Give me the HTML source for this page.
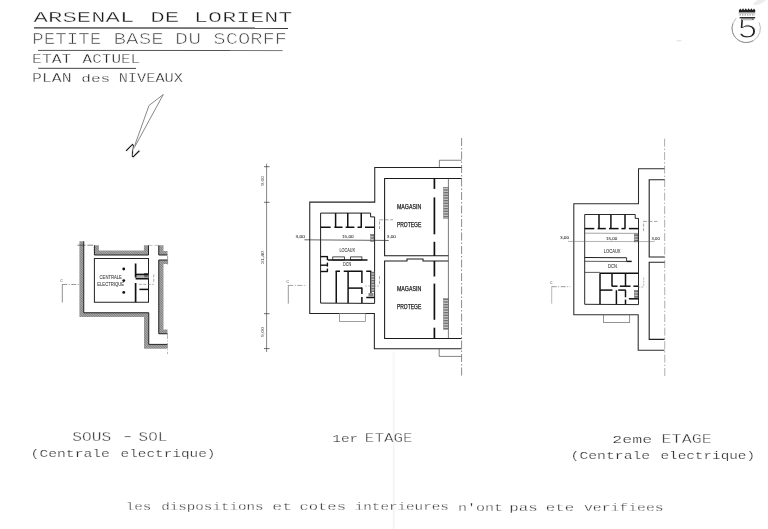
<!DOCTYPE html>
<html lang="fr">
<head>
<meta charset="utf-8">
<title>Arsenal de Lorient - Petite base du Scorff - Plan des niveaux</title>
<style>
html,body{margin:0;padding:0;background:#fff;}
body{width:768px;height:529px;overflow:hidden;}
svg{display:block;will-change:transform;filter:grayscale(1);}
text{white-space:pre;}
</style>
</head>
<body>
<svg width="768" height="529" viewBox="0 0 768 529" font-family="'Liberation Sans','DejaVu Sans',sans-serif">
<defs><pattern id="h" width="1.7" height="1.7" patternUnits="userSpaceOnUse" patternTransform="rotate(45)"><rect width="1.7" height="1.7" fill="#aeaeae"/><rect width="1.7" height="0.8" fill="#7c7c7c"/></pattern><pattern id="st" width="4" height="1.6" patternUnits="userSpaceOnUse"><rect width="4" height="1.6" fill="#d0d0d0"/><rect width="4" height="0.7" fill="#555"/></pattern></defs>
<rect width="768" height="529" fill="#fff"/>
<rect x="392.6" y="352" width="2.4" height="177" fill="#f8f8f8"/>
<rect x="393.4" y="400" width="0.8" height="129" fill="#f3f3f3"/>
<ellipse cx="760" cy="1.5" rx="7" ry="2.2" fill="#ececec" transform="rotate(-25 760 1.5)"/>
<ellipse cx="679" cy="40.8" rx="3" ry="0.8" fill="#e6e6e6"/>
<text transform="translate(33.61,22.1) scale(1.5834,1)" font-family="'Liberation Mono','DejaVu Sans Mono',monospace" font-size="15.15" fill="#1c1c1c" stroke="#fff" stroke-width="0.35">ARSENAL</text>
<text transform="translate(150.15,22.2) scale(1.6029,1)" font-family="'Liberation Mono','DejaVu Sans Mono',monospace" font-size="15.15" fill="#1c1c1c" stroke="#fff" stroke-width="0.35">DE</text>
<text transform="translate(194.05,22.4) scale(1.5466,1)" font-family="'Liberation Mono','DejaVu Sans Mono',monospace" font-size="15.15" fill="#1c1c1c" stroke="#fff" stroke-width="0.35">LORIENT</text>
<text transform="translate(32.32,43.8) scale(1.2151,1)" font-family="'Liberation Mono','DejaVu Sans Mono',monospace" font-size="15.76" fill="#3c3c3c" stroke="#fff" stroke-width="0.6">PETITE</text>
<text transform="translate(113.59,44) scale(1.3244,1)" font-family="'Liberation Mono','DejaVu Sans Mono',monospace" font-size="15.76" fill="#3c3c3c" stroke="#fff" stroke-width="0.6">BASE</text>
<text transform="translate(175.12,44.1) scale(1.3771,1)" font-family="'Liberation Mono','DejaVu Sans Mono',monospace" font-size="15.76" fill="#3c3c3c" stroke="#fff" stroke-width="0.6">DU</text>
<text transform="translate(213.37,44.2) scale(1.3006,1)" font-family="'Liberation Mono','DejaVu Sans Mono',monospace" font-size="15.76" fill="#3c3c3c" stroke="#fff" stroke-width="0.6">SCORFF</text>
<text transform="translate(32.07,62.9) scale(1.2887,1)" font-family="'Liberation Mono','DejaVu Sans Mono',monospace" font-size="12.73" fill="#222" stroke="#fff" stroke-width="0.35">ETAT</text>
<text transform="translate(82.59,62.9) scale(1.2585,1)" font-family="'Liberation Mono','DejaVu Sans Mono',monospace" font-size="12.73" fill="#222" stroke="#fff" stroke-width="0.35">ACTUEL</text>
<text transform="translate(32.06,82) scale(1.3079,1)" font-family="'Liberation Mono','DejaVu Sans Mono',monospace" font-size="12.58" fill="#222" stroke="#fff" stroke-width="0.35">PLAN</text>
<text transform="translate(81.34,82) scale(1.5365,1)" font-family="'Liberation Mono','DejaVu Sans Mono',monospace" font-size="10.45" fill="#222" stroke="#fff" stroke-width="0.25">des</text>
<text transform="translate(118.65,82.1) scale(1.2175,1)" font-family="'Liberation Mono','DejaVu Sans Mono',monospace" font-size="12.58" fill="#222" stroke="#fff" stroke-width="0.35">NIVEAUX</text>
<line x1="34" y1="27.9" x2="288" y2="28.2" stroke="#333" stroke-width="1.4"/>
<line x1="38" y1="50.4" x2="230" y2="50.5" stroke="#555" stroke-width="1"/>
<line x1="230" y1="50.5" x2="282.6" y2="50.6" stroke="#777" stroke-width="1"/>
<line x1="38.2" y1="68.3" x2="136" y2="68.4" stroke="#444" stroke-width="1"/>
<path d="M163.3 94.5 L149 105.5 L133.2 149.7 Z" fill="none" stroke="#606060" stroke-width="0.75" stroke-linejoin="miter"/>
<text x="0" y="0" font-family="'Liberation Mono','DejaVu Sans Mono',monospace" font-size="15.2" text-anchor="middle" fill="#111" stroke="#fff" stroke-width="0.5" transform="translate(132.7,150.6) rotate(45) scale(1.7,1) translate(0,5)">N</text>
<path d="M759.07 22.4 A14.2 14.2 0 1 1 736.16 18.36" fill="none" stroke="#aaa" stroke-width="0.8"/>
<path d="M753.3 40.7 A14.2 14.2 0 0 1 732.86 23.54" fill="none" stroke="#888" stroke-width="0.8"/>
<text x="0" y="0" font-size="28.6" text-anchor="middle" fill="#222" stroke="#fff" stroke-width="1.0" transform="translate(747.5,37.7) scale(1.2,1)">5</text>
<rect x="738.9" y="10" width="16.3" height="2.4" fill="#222" stroke="none" stroke-width="0"/>
<path d="M739 10.2 L740.3 8.4 L741.7 10.2 L743 8.2 L744.4 10.2 L745.8 8.2 L747.2 10.2 L748.6 8.2 L750 10.2 L751.4 8.2 L752.8 10.2 L754 8.4 L755.2 10.2 Z" fill="#222" stroke="none" stroke-linejoin="miter"/>
<line x1="738.7" y1="13.1" x2="755.2" y2="13.1" stroke="#555" stroke-width="0.5"/>
<line x1="739.5" y1="14.9" x2="755" y2="14.9" stroke="#777" stroke-width="0.9" stroke-dasharray="1.5 1"/>
<line x1="739.6" y1="17.7" x2="755.2" y2="17.7" stroke="#222" stroke-width="1.3"/>
<rect x="742" y="18.8" width="10" height="1.4" fill="#bbb" stroke="none" stroke-width="0"/>
<path d="M79.4 241.25 L83.75 241.25 L83.75 312.75 L148.75 312.75 L148.75 344.4 L167.5 344.4 L167.5 348.75 L144 348.75 L144 316.9 L79.4 316.9 Z" fill="url(#h)" stroke="none" stroke-linejoin="miter"/>
<path d="M83.75 241.25 L83.75 312.75 L148.75 312.75 L148.75 344.4 L167.5 344.4" fill="none" stroke="#222" stroke-width="1" stroke-linejoin="miter"/>
<path d="M94.4 245.25 L98.9 245.25 L98.9 250.6 L143.9 250.6 L143.9 245.25 L148.5 245.25 L148.5 255 L94.4 255 Z" fill="url(#h)" stroke="none" stroke-linejoin="miter"/>
<path d="M94.4 245.25 L94.4 255 L148.5 255 L148.5 245.25" fill="none" stroke="#222" stroke-width="1" stroke-linejoin="miter"/>
<path d="M158.75 245.25 L163.5 245.25 L163.5 251 L167.5 251 L167.5 255 L158.75 255 Z" fill="url(#h)" stroke="none" stroke-linejoin="miter"/>
<path d="M158.75 245.25 L158.75 255 L167.5 255" fill="none" stroke="#222" stroke-width="1" stroke-linejoin="miter"/>
<path d="M158.75 260 L167.5 260 L167.5 264 L163.5 264 L163.5 329.4 L167.5 329.4 L167.5 333.75 L158.75 333.75 Z" fill="url(#h)" stroke="none" stroke-linejoin="miter"/>
<path d="M167.5 260 L158.75 260 L158.75 333.75 L167.5 333.75" fill="none" stroke="#222" stroke-width="1" stroke-linejoin="miter"/>
<line x1="77.4" y1="245.2" x2="85.6" y2="245.2" stroke="#333" stroke-width="0.6"/>
<line x1="87.3" y1="245.2" x2="93" y2="245.2" stroke="#333" stroke-width="0.6"/>
<line x1="148.5" y1="245.4" x2="158.75" y2="245.4" stroke="#999" stroke-width="0.6" stroke-dasharray="4 2"/>
<line x1="167.6" y1="256" x2="167.6" y2="264.5" stroke="#666" stroke-width="0.6"/>
<line x1="167.5" y1="334" x2="167.5" y2="354" stroke="#888" stroke-width="0.6" stroke-dasharray="5 1.5 1 1.5"/>
<rect x="94.4" y="258.5" width="54.1" height="43.75" fill="none" stroke="#222" stroke-width="1"/>
<circle cx="123.75" cy="269.0" r="1.45" fill="#151515"/>
<circle cx="123.75" cy="280.6" r="1.45" fill="#151515"/>
<circle cx="123.75" cy="292.4" r="1.45" fill="#151515"/>
<rect x="135.6" y="274.4" width="12.9" height="4.35" fill="#b0b0b0" stroke="none" stroke-width="0"/>
<rect x="144.2" y="273" width="3.6" height="4.2" fill="#666" stroke="none" stroke-width="0"/>
<line x1="135.6" y1="263.5" x2="135.6" y2="277.5" stroke="#111" stroke-width="1.7"/>
<line x1="135.6" y1="283" x2="135.6" y2="302.25" stroke="#111" stroke-width="1.7"/>
<line x1="135.6" y1="274.4" x2="148.5" y2="274.4" stroke="#111" stroke-width="1.5"/>
<line x1="135.6" y1="278.75" x2="148.5" y2="278.75" stroke="#111" stroke-width="1.5"/>
<line x1="139.4" y1="289.4" x2="148.5" y2="289.4" stroke="#111" stroke-width="1.5"/>
<line x1="153.7" y1="274.4" x2="153.7" y2="283" stroke="#777" stroke-width="0.6" stroke-dasharray="3 1.5"/>
<line x1="138.75" y1="284.4" x2="153.75" y2="284.4" stroke="#777" stroke-width="0.6" stroke-dasharray="3 1.5"/>
<text x="99.6" y="278.75" font-size="4.89" font-weight="400" textLength="22.3" lengthAdjust="spacingAndGlyphs" fill="#333" stroke="#333" stroke-width="0.06">CENTRALE</text>
<text x="97.25" y="285.6" font-size="4.75" font-weight="400" textLength="26.75" lengthAdjust="spacingAndGlyphs" fill="#333" stroke="#333" stroke-width="0.06">ELECTRIQUE</text>
<text x="60.2" y="282" font-size="4.19" font-weight="400" textLength="2.6" lengthAdjust="spacingAndGlyphs" fill="#333">C</text>
<line x1="62.25" y1="284.5" x2="79" y2="284.5" stroke="#555" stroke-width="0.6" stroke-dasharray="5 1.5 1 1.5"/>
<line x1="62.3" y1="284.3" x2="62.3" y2="302.5" stroke="#444" stroke-width="0.6"/>
<line x1="266.6" y1="163.75" x2="266.6" y2="352" stroke="#333" stroke-width="0.6"/>
<line x1="264" y1="166.7" x2="269.6" y2="166.7" stroke="#333" stroke-width="0.7"/>
<line x1="264" y1="202.3" x2="269.6" y2="202.3" stroke="#333" stroke-width="0.7"/>
<line x1="264" y1="313.7" x2="269.6" y2="313.7" stroke="#333" stroke-width="0.7"/>
<line x1="264" y1="348.6" x2="269.6" y2="348.6" stroke="#333" stroke-width="0.7"/>
<text x="-185.7" y="263.8" font-size="4.19" font-weight="400" textLength="9.7" lengthAdjust="spacingAndGlyphs" fill="#333" transform="rotate(-90)">9,00</text>
<text x="-264" y="263.8" font-size="4.19" font-weight="400" textLength="13" lengthAdjust="spacingAndGlyphs" fill="#333" transform="rotate(-90)">31,40</text>
<text x="-337" y="263.8" font-size="4.19" font-weight="400" textLength="10" lengthAdjust="spacingAndGlyphs" fill="#333" transform="rotate(-90)">9,00</text>
<path d="M461.6 167.5 L374.75 167.5 L374.75 202.1 L309.75 202.1 L309.75 313.4 L374.35 313.4 L374.35 348.8 L461.5 348.8" fill="none" stroke="#222" stroke-width="1.05" stroke-linejoin="miter"/>
<path d="M439.4 167.5 L439.4 160.25 L461.6 160.25" fill="none" stroke="#333" stroke-width="0.6" stroke-linejoin="miter"/>
<path d="M439.2 348.9 L439.2 356.4 L461.4 356.4" fill="none" stroke="#333" stroke-width="0.6" stroke-linejoin="miter"/>
<rect x="339.6" y="313.4" width="25.7" height="8" fill="none" stroke="#777" stroke-width="0.7"/>
<line x1="461.6" y1="138" x2="461.6" y2="375.5" stroke="#5a5a5a" stroke-width="0.7" stroke-dasharray="8 2 1.5 2"/>
<path d="M461.6 178.5 L384.6 178.5 L384.6 255.8 L448.4 255.8" fill="none" stroke="#1a1a1a" stroke-width="1.05" stroke-linejoin="miter"/>
<path d="M448.4 261 L423 261 L423 258.9 L407 258.9 L407 261 L384.6 261 L384.6 338.4 L461.5 338.4" fill="none" stroke="#1a1a1a" stroke-width="1.05" stroke-linejoin="miter"/>
<line x1="448.4" y1="178.5" x2="448.4" y2="338.4" stroke="#444" stroke-width="0.7"/>
<line x1="434.4" y1="178.5" x2="434.4" y2="188.9" stroke="#111" stroke-width="1.7"/>
<line x1="434.4" y1="197.4" x2="434.4" y2="234.3" stroke="#111" stroke-width="1.7"/>
<line x1="434.4" y1="241.8" x2="434.4" y2="256" stroke="#111" stroke-width="1.7"/>
<line x1="434.4" y1="261" x2="434.4" y2="276.5" stroke="#111" stroke-width="1.7"/>
<line x1="434.4" y1="283.6" x2="434.4" y2="319.8" stroke="#111" stroke-width="1.7"/>
<line x1="434.4" y1="327.7" x2="434.4" y2="338.3" stroke="#111" stroke-width="1.7"/>
<rect x="443.6" y="187.4" width="4.6" height="30.8" fill="url(#st)" stroke="#555" stroke-width="0.4"/>
<rect x="443.6" y="298.6" width="4.6" height="30.8" fill="url(#st)" stroke="#555" stroke-width="0.4"/>
<text x="396.9" y="209.3" font-size="6.42" font-weight="400" textLength="24.3" lengthAdjust="spacingAndGlyphs" fill="#222" stroke="#222" stroke-width="0.25">MAGASIN</text>
<text x="396.9" y="227.1" font-size="6.42" font-weight="400" textLength="24.3" lengthAdjust="spacingAndGlyphs" fill="#222" stroke="#222" stroke-width="0.25">PROTEGE</text>
<text x="396.9" y="291.2" font-size="6.42" font-weight="400" textLength="24.3" lengthAdjust="spacingAndGlyphs" fill="#222" stroke="#222" stroke-width="0.25">MAGASIN</text>
<text x="396.9" y="308.8" font-size="6.42" font-weight="400" textLength="24.3" lengthAdjust="spacingAndGlyphs" fill="#222" stroke="#222" stroke-width="0.25">PROTEGE</text>
<path d="M374.6 216.9 L370.6 216.9 L370.6 213.1 L320.6 213.1 L320.6 303.1 L374.6 303.4 Z" fill="none" stroke="#111" stroke-width="0.95" stroke-linejoin="miter"/>
<line x1="335.6" y1="213.1" x2="335.6" y2="227.25" stroke="#111" stroke-width="1.5"/>
<line x1="347.75" y1="213.1" x2="347.75" y2="227.25" stroke="#111" stroke-width="1.5"/>
<line x1="361.25" y1="213.1" x2="361.25" y2="227.25" stroke="#111" stroke-width="1.5"/>
<line x1="320.6" y1="227.25" x2="330.6" y2="227.25" stroke="#111" stroke-width="1.5"/>
<line x1="334.4" y1="227.25" x2="342.5" y2="227.25" stroke="#111" stroke-width="1.5"/>
<line x1="345.6" y1="227.25" x2="354.4" y2="227.25" stroke="#111" stroke-width="1.5"/>
<line x1="357.5" y1="227.25" x2="361.9" y2="227.25" stroke="#111" stroke-width="1.5"/>
<line x1="365" y1="227.25" x2="374.4" y2="227.25" stroke="#111" stroke-width="1.5"/>
<line x1="304.4" y1="239.8" x2="388.75" y2="240.45" stroke="#222" stroke-width="0.7"/>
<text x="295.6" y="237.8" font-size="4.19" font-weight="400" textLength="9.4" lengthAdjust="spacingAndGlyphs" fill="#333" stroke="#333" stroke-width="0.06">3,00</text>
<text x="341.9" y="238.2" font-size="4.33" font-weight="400" textLength="11.85" lengthAdjust="spacingAndGlyphs" fill="#333" stroke="#333" stroke-width="0.06">15,00</text>
<text x="386.8" y="238.4" font-size="4.05" font-weight="400" textLength="9.2" lengthAdjust="spacingAndGlyphs" fill="#333" stroke="#333" stroke-width="0.06">3,00</text>
<text x="339.4" y="251.9" font-size="4.75" font-weight="400" textLength="15.6" lengthAdjust="spacingAndGlyphs" fill="#333" stroke="#333" stroke-width="0.06">LOCAUX</text>
<text x="343.1" y="266.1" font-size="4.75" font-weight="400" textLength="8.15" lengthAdjust="spacingAndGlyphs" fill="#333" stroke="#333" stroke-width="0.06">DCN</text>
<rect x="370.8" y="234.4" width="3.2" height="7.1" fill="url(#st)" stroke="#444" stroke-width="0.4"/>
<line x1="379.5" y1="221.5" x2="379.5" y2="230.5" stroke="#666" stroke-width="0.6" stroke-dasharray="3 1.5"/>
<line x1="379.2" y1="219.8" x2="393" y2="219.8" stroke="#666" stroke-width="0.6" stroke-dasharray="4 1.5"/>
<line x1="320.6" y1="256.6" x2="327.9" y2="256.6" stroke="#111" stroke-width="1.4"/>
<line x1="320.6" y1="265.2" x2="327.9" y2="265.2" stroke="#111" stroke-width="1.4"/>
<line x1="320.6" y1="271.5" x2="327.9" y2="271.5" stroke="#111" stroke-width="1.4"/>
<line x1="327.4" y1="256.6" x2="327.4" y2="260.2" stroke="#111" stroke-width="1.4"/>
<line x1="327.4" y1="262.6" x2="327.4" y2="266.6" stroke="#111" stroke-width="1.4"/>
<line x1="327.4" y1="268.6" x2="327.4" y2="271.5" stroke="#111" stroke-width="1.4"/>
<rect x="332.75" y="256.9" width="11.65" height="3.1" fill="none" stroke="#222" stroke-width="0.8"/>
<rect x="350.6" y="256.9" width="11.3" height="3.1" fill="none" stroke="#222" stroke-width="0.8"/>
<line x1="328" y1="260" x2="367.5" y2="260" stroke="#111" stroke-width="1.3"/>
<line x1="335.6" y1="271.25" x2="340" y2="271.25" stroke="#111" stroke-width="1.5"/>
<line x1="343.75" y1="271.25" x2="362.5" y2="271.25" stroke="#111" stroke-width="1.5"/>
<line x1="366.25" y1="271.25" x2="371.25" y2="271.25" stroke="#111" stroke-width="1.5"/>
<line x1="336.25" y1="271.25" x2="336.25" y2="302.9" stroke="#111" stroke-width="1.5"/>
<line x1="348.1" y1="271.25" x2="348.1" y2="302.9" stroke="#111" stroke-width="1.5"/>
<line x1="361.9" y1="271.25" x2="361.9" y2="283" stroke="#111" stroke-width="1.5"/>
<line x1="361.9" y1="287.5" x2="361.9" y2="294" stroke="#111" stroke-width="1.5"/>
<line x1="361.9" y1="297" x2="361.9" y2="302.9" stroke="#111" stroke-width="1.5"/>
<line x1="370.9" y1="271.25" x2="370.9" y2="293" stroke="#111" stroke-width="1.4"/>
<line x1="348.1" y1="288.1" x2="361.9" y2="288.1" stroke="#111" stroke-width="1.5"/>
<line x1="366.25" y1="297.5" x2="374.6" y2="297.5" stroke="#111" stroke-width="1.5"/>
<rect x="371.5" y="271.5" width="2.8" height="20.5" fill="url(#st)" stroke="none" stroke-width="0"/>
<rect x="368.5" y="293" width="5" height="3.5" fill="#888" stroke="none" stroke-width="0"/>
<line x1="379.5" y1="276.25" x2="379.5" y2="283.75" stroke="#666" stroke-width="0.6" stroke-dasharray="3 1.5"/>
<line x1="365" y1="286" x2="380" y2="286" stroke="#999" stroke-width="0.6" stroke-dasharray="2 1"/>
<text x="286.4" y="283.2" font-size="4.19" font-weight="400" textLength="2.5" lengthAdjust="spacingAndGlyphs" fill="#333">C</text>
<line x1="288.3" y1="285.4" x2="306.6" y2="285.4" stroke="#666" stroke-width="0.6" stroke-dasharray="5 1.5 1 1.5"/>
<line x1="288.3" y1="285.2" x2="288.3" y2="303.7" stroke="#555" stroke-width="0.6"/>
<path d="M664.6 168.7 L638.5 168.7 L638.5 203.8 L573.8 203.8 L573.8 314.7 L638.2 314.7 L638.2 350.3 L664.5 350.3" fill="none" stroke="#2c2c2c" stroke-width="1.05" stroke-linejoin="miter"/>
<line x1="664.6" y1="138.6" x2="664.8" y2="377.3" stroke="#777" stroke-width="0.6" stroke-dasharray="8 2 1.5 2"/>
<path d="M664.6 179.8 L649.2 179.8 L649.2 257 L664.6 257" fill="none" stroke="#222" stroke-width="1.1" stroke-linejoin="miter"/>
<path d="M664.6 262.3 L649.2 262.3 L649.2 339.4 L664.6 339.4" fill="none" stroke="#222" stroke-width="1.1" stroke-linejoin="miter"/>
<rect x="603.4" y="314.7" width="26.3" height="7.8" fill="none" stroke="#666" stroke-width="0.7"/>
<path d="M638.5 218.4 L635.2 218.4 L635.2 214.5 L584.7 214.5 L584.7 304.3 L638.5 304.6 Z" fill="none" stroke="#111" stroke-width="0.9" stroke-linejoin="miter"/>
<line x1="599" y1="214.5" x2="599" y2="228.6" stroke="#111" stroke-width="1.5"/>
<line x1="610.9" y1="214.5" x2="610.9" y2="228.6" stroke="#111" stroke-width="1.5"/>
<line x1="625" y1="214.5" x2="625" y2="228.6" stroke="#111" stroke-width="1.5"/>
<line x1="584.7" y1="228.6" x2="594.3" y2="228.6" stroke="#111" stroke-width="1.5"/>
<line x1="597.6" y1="228.6" x2="605.8" y2="228.6" stroke="#111" stroke-width="1.5"/>
<line x1="609" y1="228.6" x2="618.6" y2="228.6" stroke="#111" stroke-width="1.5"/>
<line x1="621.4" y1="228.6" x2="625.4" y2="228.6" stroke="#111" stroke-width="1.5"/>
<line x1="628.9" y1="228.6" x2="638.3" y2="228.6" stroke="#111" stroke-width="1.5"/>
<line x1="584.7" y1="233.2" x2="638.3" y2="233.4" stroke="#666" stroke-width="0.6"/>
<line x1="568" y1="241.4" x2="654.5" y2="241.6" stroke="#666" stroke-width="0.5"/>
<text x="559.9" y="238.8" font-size="3.77" font-weight="400" textLength="9.1" lengthAdjust="spacingAndGlyphs" fill="#333" stroke="#333" stroke-width="0.06">3,00</text>
<text x="606" y="239.8" font-size="4.19" font-weight="400" textLength="11.2" lengthAdjust="spacingAndGlyphs" fill="#333" stroke="#333" stroke-width="0.06">15,00</text>
<text x="651.6" y="239.8" font-size="4.19" font-weight="400" textLength="8.2" lengthAdjust="spacingAndGlyphs" fill="#333" stroke="#333" stroke-width="0.06">3,00</text>
<text x="603.8" y="253.1" font-size="4.75" font-weight="400" textLength="16.8" lengthAdjust="spacingAndGlyphs" fill="#333" stroke="#333" stroke-width="0.06">LOCAUX</text>
<text x="608.1" y="267.8" font-size="4.75" font-weight="400" textLength="8.8" lengthAdjust="spacingAndGlyphs" fill="#333" stroke="#333" stroke-width="0.06">DCN</text>
<rect x="634.5" y="234" width="3.5" height="7.9" fill="url(#st)" stroke="#444" stroke-width="0.4"/>
<line x1="643.6" y1="223.6" x2="643.6" y2="231.7" stroke="#666" stroke-width="0.6" stroke-dasharray="3 1.5"/>
<line x1="643" y1="221.4" x2="657.4" y2="221.4" stroke="#666" stroke-width="0.6" stroke-dasharray="4 1.5"/>
<line x1="584.7" y1="257.5" x2="626.6" y2="257.7" stroke="#222" stroke-width="1.1"/>
<line x1="584.7" y1="261.3" x2="626.6" y2="261.5" stroke="#333" stroke-width="0.8"/>
<line x1="626.6" y1="257.7" x2="626.6" y2="261.4" stroke="#222" stroke-width="0.9"/>
<line x1="626.6" y1="261.4" x2="631.7" y2="261.4" stroke="#111" stroke-width="1.4"/>
<line x1="584.7" y1="272.4" x2="600" y2="272.4" stroke="#333" stroke-width="0.8"/>
<line x1="600" y1="273.3" x2="638.3" y2="273.3" stroke="#111" stroke-width="1.5"/>
<line x1="600" y1="273.3" x2="600" y2="304.2" stroke="#111" stroke-width="1.5"/>
<line x1="612" y1="273.3" x2="612" y2="286.25" stroke="#111" stroke-width="1.5"/>
<line x1="625.5" y1="273.3" x2="625.5" y2="286.25" stroke="#111" stroke-width="1.5"/>
<line x1="611.8" y1="286.2" x2="617.5" y2="286.2" stroke="#111" stroke-width="1.5"/>
<line x1="619.8" y1="286.2" x2="630.5" y2="286.2" stroke="#111" stroke-width="1.5"/>
<line x1="633.4" y1="286.2" x2="638.3" y2="286.2" stroke="#111" stroke-width="1.5"/>
<line x1="600" y1="290.1" x2="612.4" y2="290.1" stroke="#111" stroke-width="1.5"/>
<line x1="618.2" y1="290.1" x2="625.8" y2="290.1" stroke="#111" stroke-width="1.5"/>
<line x1="616.4" y1="290.2" x2="616.4" y2="304.2" stroke="#111" stroke-width="1.5"/>
<line x1="625.5" y1="290.2" x2="625.5" y2="297.3" stroke="#111" stroke-width="1.5"/>
<line x1="625.5" y1="299.6" x2="625.5" y2="304.2" stroke="#111" stroke-width="1.5"/>
<line x1="628.9" y1="298.8" x2="638.3" y2="298.8" stroke="#111" stroke-width="1.5"/>
<rect x="634.5" y="290.4" width="3.5" height="7.4" fill="url(#st)" stroke="#444" stroke-width="0.4"/>
<line x1="643.75" y1="277.7" x2="643.75" y2="287" stroke="#888" stroke-width="0.6" stroke-dasharray="2 1"/>
<line x1="638.3" y1="287" x2="643.75" y2="287" stroke="#888" stroke-width="0.6" stroke-dasharray="2 1"/>
<text x="550" y="284.2" font-size="4.19" font-weight="400" textLength="2.6" lengthAdjust="spacingAndGlyphs" fill="#333">C</text>
<line x1="551.7" y1="286.7" x2="570.3" y2="286.7" stroke="#555" stroke-width="0.6" stroke-dasharray="5 1.5 1 1.5"/>
<line x1="551.7" y1="286.5" x2="551.7" y2="303.7" stroke="#999" stroke-width="0.7"/>
<text transform="translate(72.33,440.7) scale(1.2600,1)" font-family="'Liberation Mono','DejaVu Sans Mono',monospace" font-size="12.88" fill="#333" stroke="#fff" stroke-width="0.35">SOUS</text>
<text transform="translate(120.21,439.9) scale(1.9113,1)" font-family="'Liberation Mono','DejaVu Sans Mono',monospace" font-size="12.88" fill="#333" stroke="#fff" stroke-width="0.4">-</text>
<text transform="translate(138.6,440.8) scale(1.2354,1)" font-family="'Liberation Mono','DejaVu Sans Mono',monospace" font-size="12.88" fill="#333" stroke="#fff" stroke-width="0.35">SOL</text>
<text transform="translate(30.56,456.7) scale(1.3301,1)" font-family="'Liberation Mono','DejaVu Sans Mono',monospace" font-size="11.06" fill="#2a2a2a" stroke="#fff" stroke-width="0.22">(Centrale</text>
<text transform="translate(120.61,456.7) scale(1.2998,1)" font-family="'Liberation Mono','DejaVu Sans Mono',monospace" font-size="11.06" fill="#2a2a2a" stroke="#fff" stroke-width="0.22">electrique)</text>
<text transform="translate(332.26,442) scale(1.2870,1)" font-family="'Liberation Mono','DejaVu Sans Mono',monospace" font-size="11.21" fill="#2a2a2a" stroke="#fff" stroke-width="0.22">1er</text>
<text transform="translate(364.86,442) scale(1.2626,1)" font-family="'Liberation Mono','DejaVu Sans Mono',monospace" font-size="12.58" fill="#333" stroke="#fff" stroke-width="0.35">ETAGE</text>
<text transform="translate(612.3,443.3) scale(1.5217,1)" font-family="'Liberation Mono','DejaVu Sans Mono',monospace" font-size="10.91" fill="#2a2a2a" stroke="#fff" stroke-width="0.22">2eme</text>
<text transform="translate(661.54,443.4) scale(1.3323,1)" font-family="'Liberation Mono','DejaVu Sans Mono',monospace" font-size="12.58" fill="#333" stroke="#fff" stroke-width="0.35">ETAGE</text>
<text transform="translate(570.56,458.9) scale(1.3352,1)" font-family="'Liberation Mono','DejaVu Sans Mono',monospace" font-size="11.06" fill="#2a2a2a" stroke="#fff" stroke-width="0.22">(Centrale</text>
<text transform="translate(660.47,459.2) scale(1.2969,1)" font-family="'Liberation Mono','DejaVu Sans Mono',monospace" font-size="11.06" fill="#2a2a2a" stroke="#fff" stroke-width="0.22">electrique)</text>
<text transform="translate(125.67,509.5) scale(1.3464,1)" font-family="'Liberation Mono','DejaVu Sans Mono',monospace" font-size="10.61" fill="#222" stroke="#fff" stroke-width="0.3">les</text>
<text transform="translate(161.23,509.7) scale(1.3407,1)" font-family="'Liberation Mono','DejaVu Sans Mono',monospace" font-size="10.61" fill="#222" stroke="#fff" stroke-width="0.3">dispositions</text>
<text transform="translate(272.31,509.9) scale(1.5519,1)" font-family="'Liberation Mono','DejaVu Sans Mono',monospace" font-size="10.61" fill="#222" stroke="#fff" stroke-width="0.3">et</text>
<text transform="translate(299.38,510.1) scale(1.4640,1)" font-family="'Liberation Mono','DejaVu Sans Mono',monospace" font-size="10.61" fill="#222" stroke="#fff" stroke-width="0.3">cotes</text>
<text transform="translate(354.72,510.4) scale(1.3449,1)" font-family="'Liberation Mono','DejaVu Sans Mono',monospace" font-size="10.61" fill="#222" stroke="#fff" stroke-width="0.3">interieures</text>
<text transform="translate(457.91,510.7) scale(1.4151,1)" font-family="'Liberation Mono','DejaVu Sans Mono',monospace" font-size="10.61" fill="#222" stroke="#fff" stroke-width="0.3">n'ont</text>
<text transform="translate(509.35,510.9) scale(1.4871,1)" font-family="'Liberation Mono','DejaVu Sans Mono',monospace" font-size="10.61" fill="#222" stroke="#fff" stroke-width="0.3">pas</text>
<text transform="translate(545.87,511.1) scale(1.4857,1)" font-family="'Liberation Mono','DejaVu Sans Mono',monospace" font-size="10.61" fill="#222" stroke="#fff" stroke-width="0.3">ete</text>
<text transform="translate(583.94,511.3) scale(1.3919,1)" font-family="'Liberation Mono','DejaVu Sans Mono',monospace" font-size="10.61" fill="#222" stroke="#fff" stroke-width="0.3">verifiees</text>
</svg>
</body>
</html>
